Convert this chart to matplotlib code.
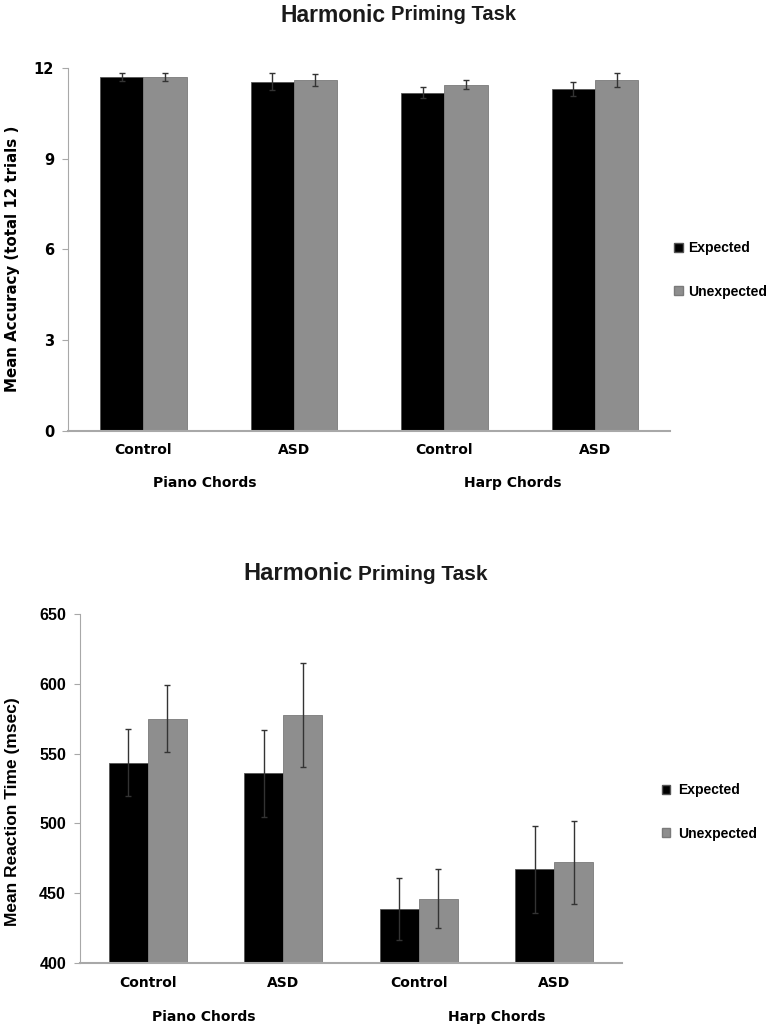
import matplotlib.pyplot as plt
import numpy as np
from matplotlib.patches import Patch

# data
groups = ["Control", "ASD", "Control", "ASD"]
instruments = ["Piano Chords", "Harp Chords"]
series = ["Expected", "Unexpected"]

acc_expected = [11.71, 11.55, 11.18, 11.31]
acc_unexpected = [11.71, 11.60, 11.45, 11.60]
acc_expected_err = [0.14, 0.29, 0.18, 0.24]
acc_unexpected_err = [0.14, 0.21, 0.15, 0.24]

rt_expected = [543.3, 535.9, 438.8, 467.0]
rt_unexpected = [574.9, 577.5, 446.2, 472.0]
rt_expected_err = [24, 31, 22, 31]
rt_unexpected_err = [24, 37, 21, 30]

acc_ticks = [0, 3, 6, 9, 12]
rt_ticks = [400, 450, 500, 550, 600, 650]

black = "#000000"
grey = "#8e8e8e"
axis_grey = "#a8a8a8"
w = 0.287

fig = plt.figure(figsize=(7.73, 10.30), dpi=100)


def draw_panel(ax, exp, unexp, exp_err, unexp_err, ylim, ticks, tickfont, catfont, catsize, ticksize):
    x = np.arange(len(groups))
    ekw = dict(ecolor="#333333", elinewidth=1.0, capsize=2.5, capthick=1.0)
    ax.bar(x - w / 2, exp, w, bottom=0, color=black, edgecolor="#555555", linewidth=0.6,
           yerr=exp_err, error_kw=ekw, zorder=2)
    ax.bar(x + w / 2, unexp, w, color=grey, edgecolor="#7a7a7a", linewidth=0.6,
           yerr=unexp_err, error_kw=ekw, zorder=2)
    ax.set_xlim(-0.5, len(groups) - 0.5)
    ax.set_ylim(*ylim)
    ax.set_yticks(ticks)
    ax.set_yticklabels([str(t) for t in ticks], fontfamily=tickfont, fontweight="bold", fontsize=ticksize)
    ax.set_xticks(x)
    ax.set_xticklabels(groups, fontfamily=catfont, fontweight="bold", fontsize=catsize)
    ax.tick_params(axis="x", length=0, pad=9)
    ax.tick_params(axis="y", length=4, color=axis_grey, pad=6)
    for s in ["top", "right"]:
        ax.spines[s].set_visible(False)
    ax.spines["left"].set_color(axis_grey)
    ax.spines["bottom"].set_color(axis_grey)
    ax.spines["bottom"].set_linewidth(1.5)


def title(y, split, size1, size2):
    fig.text(split - 0.003, y, "Harmonic", ha="right", va="center", fontfamily="Liberation Sans",
             fontweight="bold", fontsize=size1, color="#1a1a1a")
    fig.text(split + 0.004, y, "Priming Task", ha="left", va="center", fontfamily="Liberation Sans",
             fontweight="bold", fontsize=size2, color="#1a1a1a")


handles = [Patch(facecolor=black, edgecolor="#555555"), Patch(facecolor=grey, edgecolor="#7a7a7a")]
legend_font = dict(family="Liberation Sans", weight="bold", size=10)

# top panel: accuracy
ax1 = fig.add_axes([0.088, 0.5816, 0.779, 0.3524])
draw_panel(ax1, acc_expected, acc_unexpected, acc_expected_err, acc_unexpected_err,
           (0, 12), acc_ticks, "DejaVu Sans", "DejaVu Sans", 10, 10.5)
fig.text(13 / 773, 1 - 259 / 1030, "Mean Accuracy (total 12 trials )", rotation=90, ha="center",
         va="center", fontfamily="DejaVu Sans", fontweight="bold", fontsize=10.8)
title(1 - 15 / 1030, 388 / 773, 16.5, 14.5)
fig.text(0.265, 1 - 483 / 1030, instruments[0], ha="center", va="center", fontfamily="DejaVu Sans",
         fontweight="bold", fontsize=10)
fig.text(0.663, 1 - 483 / 1030, instruments[1], ha="center", va="center", fontfamily="DejaVu Sans",
         fontweight="bold", fontsize=10)
fig.legend(handles, series, loc="center left", bbox_to_anchor=(0.856, 1 - 270 / 1030), frameon=False,
           handlelength=0.6, handleheight=0.6, handletextpad=0.4, labelspacing=2.1, prop=legend_font)

# bottom panel: reaction time
ax2 = fig.add_axes([0.1035, 0.065, 0.701, 0.339])
draw_panel(ax2, rt_expected, rt_unexpected, rt_expected_err, rt_unexpected_err,
           (400, 650), rt_ticks, "Liberation Sans", "DejaVu Sans", 10, 11.5)
fig.text(13 / 773, 1 - 812 / 1030, "Mean Reaction Time (msec)", rotation=90, ha="center",
         va="center", fontfamily="Liberation Sans", fontweight="bold", fontsize=12.5)
title(1 - 574 / 1030, 355 / 773, 17, 15)
fig.text(0.263, 1 - 1017 / 1030, instruments[0], ha="center", va="center", fontfamily="DejaVu Sans",
         fontweight="bold", fontsize=10)
fig.text(0.643, 1 - 1017 / 1030, instruments[1], ha="center", va="center", fontfamily="DejaVu Sans",
         fontweight="bold", fontsize=10)
fig.legend(handles, series, loc="center left", bbox_to_anchor=(0.840, 1 - 812 / 1030), frameon=False,
           handlelength=0.6, handleheight=0.6, handletextpad=0.6, labelspacing=2.1, prop=legend_font)

fig.savefig("out.png", dpi=100)
